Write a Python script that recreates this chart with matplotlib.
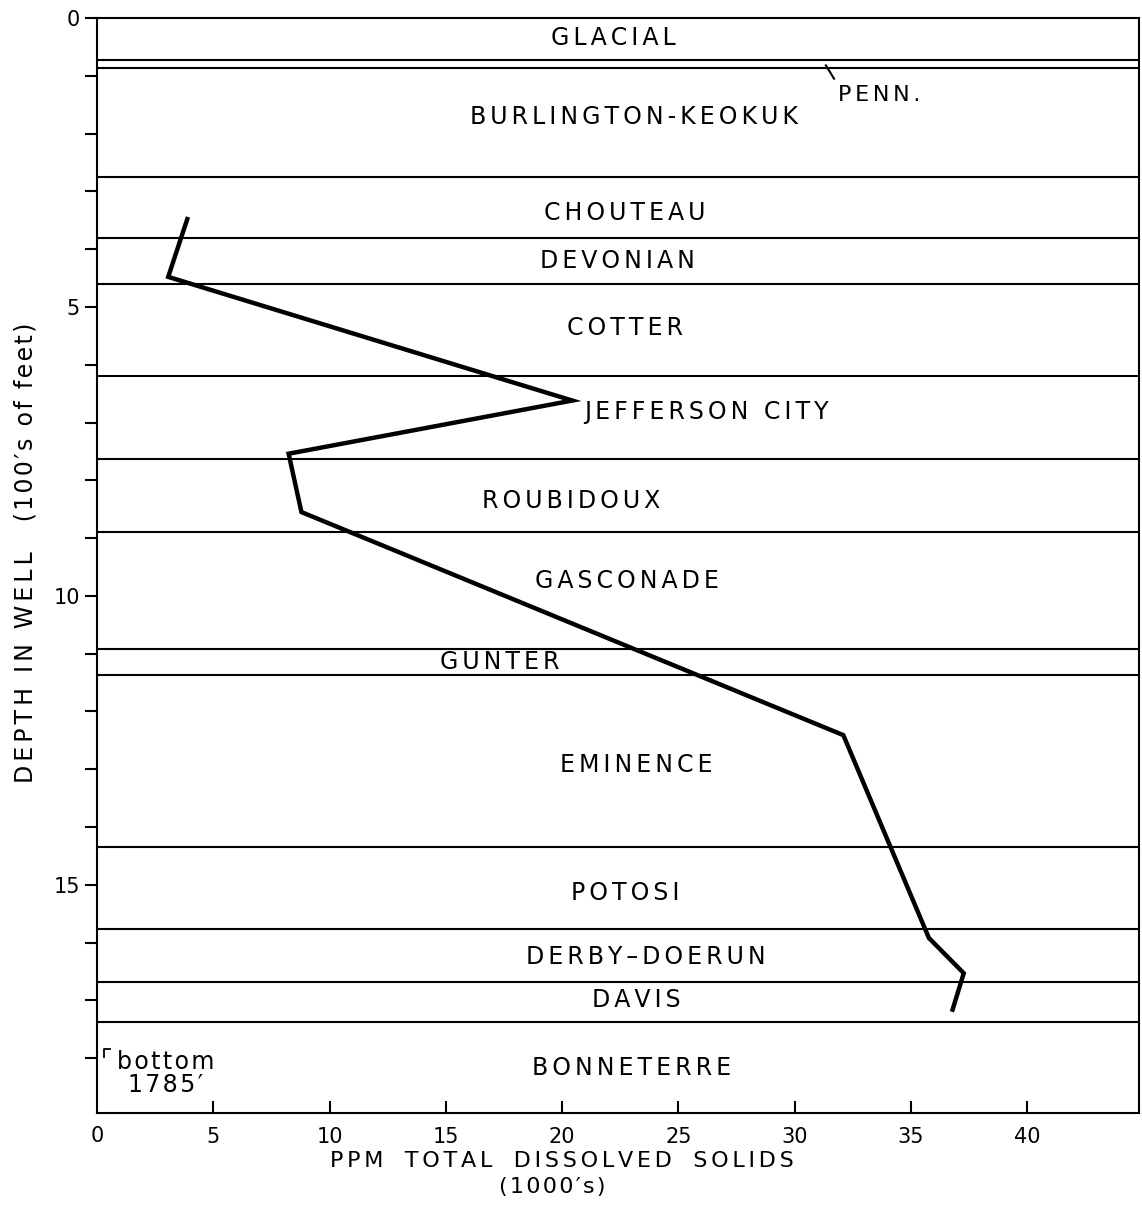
import matplotlib
matplotlib.use("Agg")
import matplotlib.pyplot as plt
import numpy as np

plt.rcParams['font.family'] = ['DejaVu Sans']

# formation boundaries (100's of feet)
boundaries = [0.73, 0.87, 2.75, 3.81, 4.60, 6.19, 7.63, 8.89, 10.92, 11.37,
              14.34, 15.76, 16.68, 17.37]

# formation names with label positions (x in 1000's ppm, depth)
formations = ["GLACIAL", "BURLINGTON-KEOKUK", "CHOUTEAU", "DEVONIAN", "COTTER",
              "JEFFERSON CITY", "ROUBIDOUX", "GASCONADE", "GUNTER", "EMINENCE",
              "POTOSI", "DERBY\u2013DOERUN", "DAVIS", "BONNETERRE"]
label_x = [22.2, 23.1, 22.7, 22.4, 22.7, 26.2, 20.4, 22.8, 17.3, 23.2,
           22.7, 23.6, 23.2, 23.0]
label_y = [0.35, 1.71, 3.37, 4.20, 5.36, 6.82, 8.36, 9.74, 11.14, 12.92,
           15.14, 16.25, 17.0, 18.17]

# total dissolved solids profile
tds = [3.88, 3.06, 20.44, 8.24, 8.79, 32.1, 35.78, 37.28, 36.8]
depth = [3.48, 4.48, 6.62, 7.54, 8.55, 12.41, 15.92, 16.53, 17.16]


def spaced(s, sp="\u2006"):
    # widen letter spacing like the lettering on the original
    return sp.join(s)


fig = plt.figure(figsize=(11.42, 12.08), dpi=100)
ax = fig.add_axes([0.085, 0.0786, 0.912, 0.9065])

for b in boundaries:
    ax.axhline(b, color='black', lw=1.5)

ax.plot(tds, depth, color='black', lw=3.2, solid_joinstyle='miter')

for name, x, y in zip(formations, label_x, label_y):
    ax.text(x, y, spaced(name), ha='center', va='center', fontsize=17)

# PENN. label with small leader
ax.text(31.85, 1.33, spaced("PENN."), ha='left', va='center', fontsize=16)
ax.plot([31.35, 31.7], [0.82, 1.05], color='black', lw=1.5)

# bottom of well note
ax.text(2.95, 18.06, spaced("bottom", "\u200a"), ha='center', va='center', fontsize=17)
ax.text(2.95, 18.46, spaced("1785\u2032", "\u200a"), ha='center', va='center', fontsize=17)
ax.plot([0.3, 0.3, 0.55], [17.98, 17.85, 17.85], color='black', lw=1.3)

ax.set_xlim(0, 44.8)
ax.set_ylim(18.95, 0)

ax.set_xticks([5, 10, 15, 20, 25, 30, 35, 40])
ax.set_yticks([0, 5, 10, 15])
ax.set_yticks(np.arange(0, 19), minor=True)
ax.tick_params(axis='x', direction='in', length=9, width=1.5, labelsize=15, pad=10)
ax.tick_params(axis='y', which='both', direction='out', length=9, width=1.5, labelsize=15)
ax.text(0, -0.012, "0", transform=ax.get_xaxis_transform(), ha='center', va='top', fontsize=15)

for s in ax.spines.values():
    s.set_linewidth(1.5)

xt = ax.get_xaxis_transform()
ax.text(20.0, -0.035, spaced("PPM") + "   " + spaced("TOTAL") + "   " +
        spaced("DISSOLVED") + "   " + spaced("SOLIDS"), transform=xt,
        ha='center', va='top', fontsize=16)
ax.text(19.6, -0.058, spaced("(1000\u2032s)", "\u200a"), transform=xt,
        ha='center', va='top', fontsize=16)
ax.set_ylabel(spaced("DEPTH") + "  " + spaced("IN") + "  " + spaced("WELL") + "    " +
              spaced("(100\u2032s of feet)", "\u200a"), fontsize=17)
ax.yaxis.set_label_coords(-0.057, 0.512)

fig.savefig("out.png", dpi=100)
